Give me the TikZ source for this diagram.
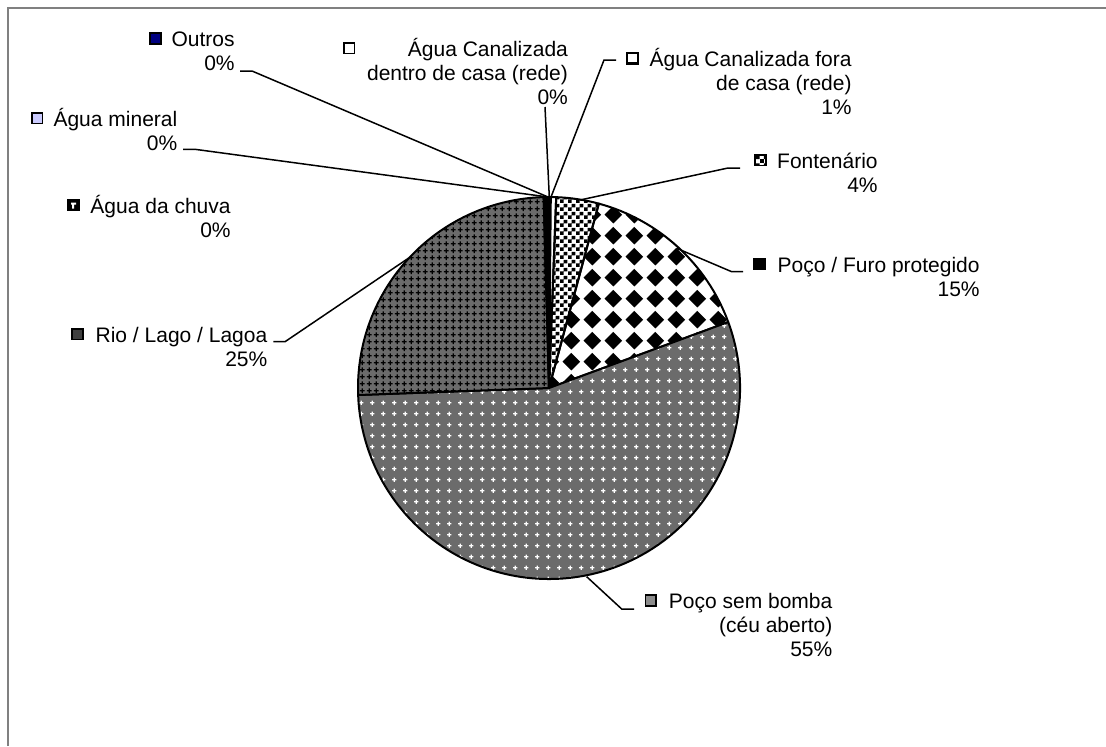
\documentclass[tikz,border=0pt]{standalone}
\usepackage{fontspec}
\setmainfont{Liberation Sans}
\usetikzlibrary{patterns,calc}

\definecolor{framegray}{RGB}{128,128,128}
\definecolor{navykey}{RGB}{0,0,128}
\definecolor{lavkey}{RGB}{204,204,255}

% fill patterns of the slices
\pgfdeclarepatternformonly{finechecker}{\pgfqpoint{0pt}{0pt}}{\pgfqpoint{4pt}{4pt}}{\pgfqpoint{4pt}{4pt}}{%
  \pgfpathrectangle{\pgfqpoint{0pt}{0pt}}{\pgfqpoint{2.05pt}{2.05pt}}%
  \pgfpathrectangle{\pgfqpoint{2pt}{2pt}}{\pgfqpoint{2.05pt}{2.05pt}}%
  \pgfusepath{fill}}
\pgfdeclarepatternformonly{bigdiamonds}{\pgfqpoint{0pt}{0pt}}{\pgfqpoint{10.4pt}{10.4pt}}{\pgfqpoint{10.4pt}{10.4pt}}{%
  \pgfpathmoveto{\pgfqpoint{5.2pt}{0.8pt}}%
  \pgfpathlineto{\pgfqpoint{9.6pt}{5.2pt}}%
  \pgfpathlineto{\pgfqpoint{5.2pt}{9.6pt}}%
  \pgfpathlineto{\pgfqpoint{0.8pt}{5.2pt}}%
  \pgfpathclose
  \pgfusepath{fill}}
\pgfdeclarepatternformonly{smallpluses}{\pgfqpoint{0pt}{0pt}}{\pgfqpoint{5.4pt}{5.4pt}}{\pgfqpoint{5.4pt}{5.4pt}}{%
  \pgfpathrectangle{\pgfqpoint{1.6pt}{2.35pt}}{\pgfqpoint{2.2pt}{0.7pt}}%
  \pgfpathrectangle{\pgfqpoint{2.35pt}{1.6pt}}{\pgfqpoint{0.7pt}{2.2pt}}%
  \pgfusepath{fill}}
\pgfdeclarepatternformonly{tinypluses}{\pgfqpoint{0pt}{0pt}}{\pgfqpoint{3.6pt}{3.6pt}}{\pgfqpoint{3.6pt}{3.6pt}}{%
  \pgfpathrectangle{\pgfqpoint{0.5pt}{1.45pt}}{\pgfqpoint{2.6pt}{0.7pt}}%
  \pgfpathrectangle{\pgfqpoint{1.45pt}{0.5pt}}{\pgfqpoint{0.7pt}{2.6pt}}%
  \pgfusepath{fill}}

\tikzset{
  slice/.style={draw=black, line width=1pt, line join=round},
  leader/.style={draw=black, line width=0.75pt},
  lbl/.style={font=\fontsize{10.5}{12}\selectfont, align=right, inner sep=0pt, anchor=base east},
  keybox/.style={draw=black, line width=0.9pt, minimum size=5.4pt, inner sep=0pt},
}

% one slice of the pie: style, start angle, end angle
\newcommand{\pieslice}[3]{\path[#1] (ctr) -- ++(#2:191) arc[start angle=#2, end angle=#3, radius=191] -- cycle;}

\begin{document}
\begin{tikzpicture}[x=0.5pt, y=-0.5pt]
  \useasboundingbox (0,0) rectangle (1106,746);

  % Frame of the chart
  \draw[framegray, line width=1pt] (7.5,746) -- (7.5,7.5) -- (1106,7.5);

  \coordinate (ctr) at (549,388);

  % Slices, clockwise from the top
  \pieslice{slice, fill=white}{-90}{-89.46}
  \pieslice{slice, fill=white}{-89.46}{-87.84}
  \pieslice{slice, pattern=finechecker}{-87.84}{-74.88}
  \pieslice{slice, pattern=bigdiamonds}{-74.88}{-20.2}
  \pieslice{slice, preaction={fill=black!58}, pattern=smallpluses, pattern color=white}{-20.2}{177.9}
  \pieslice{slice, preaction={fill=black!58}, pattern=tinypluses}{177.9}{268.4}
  \pieslice{slice, fill=black}{268.4}{268.95}
  \pieslice{slice, fill=lavkey}{268.95}{269.5}
  \pieslice{slice, fill=navykey}{269.5}{270}

  % Points on the pie where the leaders end
  \coordinate (pTop) at (548,197);
  \coordinate (pDentro) at (549.3,197);
  \coordinate (pFora) at (551,197);
  \coordinate (pFonte) at (580,200);
  \coordinate (pFuro) at (676.7,248.3);
  \coordinate (pSem) at (586.7,576.7);
  \coordinate (pRio) at (408.3,258.3);

  % Leader starts beside the labels
  \coordinate (eOutros) at (240,71);
  \coordinate (eMineral) at (183,149.3);
  \coordinate (eDentro) at (545,107);
  \coordinate (eFora) at (616,60);
  \coordinate (eFonte) at (740,168);
  \coordinate (eFuro) at (743,271.7);
  \coordinate (eSem) at (634,609);
  \coordinate (eRio) at (273.3,341.7);

  % Drawing leaders
  \draw[leader] (eOutros) -- ++(12,0) -- (pTop);
  \draw[leader] (eMineral) -- ++(12,0) -- (pTop);
  \draw[leader] (eDentro) -- (pDentro);
  \draw[leader] (eFora) -- ++(-12,0) -- (pFora);
  \draw[leader] (eFonte) -- ++(-12,0) -- (pFonte);
  \draw[leader] (eFuro) -- ++(-11.3,0) -- (pFuro);
  \draw[leader] (eSem) -- ++(-12.3,0) -- (pSem);
  \draw[leader] (eRio) -- ++(11.7,0) -- (pRio);

  % Labels (placed at the baseline of their last line)
  \node[lbl] (lOutros) at (235,70.7) {Outros\\0\%};
  \node[lbl] (lMineral) at (177.7,150) {Água mineral\\0\%};
  \node[lbl] (lChuva) at (231,237.3) {Água da chuva\\0\%};
  \node[lbl] (lRio) at (267.7,366.3) {Rio / Lago / Lagoa\\25\%};
  \node[lbl] (lDentro) at (568.3,104.7) {Água Canalizada\\dentro de casa (rede)\\0\%};
  \node[lbl] (lFora) at (852,114.7) {Água Canalizada fora\\de casa (rede)\\1\%};
  \node[lbl] (lFonte) at (878,192) {Fontenário\\4\%};
  \node[lbl] (lFuro) at (980,296) {Poço / Furo protegido\\15\%};
  \node[lbl] (lSem) at (832.7,656.3) {Poço sem bomba\\(céu aberto)\\55\%};

  % Legend keys
  \node[keybox, fill=navykey] (kOutros) at (155.5,38.5) {};
  \node[keybox, fill=lavkey] (kMineral) at (37,118) {};
  \node[keybox, fill=black, path picture={\fill[white] ($(path picture bounding box.north west)+(3,3)$) rectangle ++(5,2) ++(-2,0) rectangle ++(-2,4);}] (kChuva) at (73.5,205) {};
  \node[keybox, fill=black!75] (kRio) at (77.5,334) {};
  \node[keybox, fill=white] (kDentro) at (349,48) {};
  \node[keybox, fill=white, line width=1.1pt] (kFora) at (632.7,58) {};
  \node[keybox, pattern=finechecker] (kFonte) at (760.5,160) {};
  \node[keybox, fill=black] (kFuro) at (759.5,264) {};
  \node[keybox, fill=black!45] (kSem) at (650.8,600.5) {};
\end{tikzpicture}
\end{document}
